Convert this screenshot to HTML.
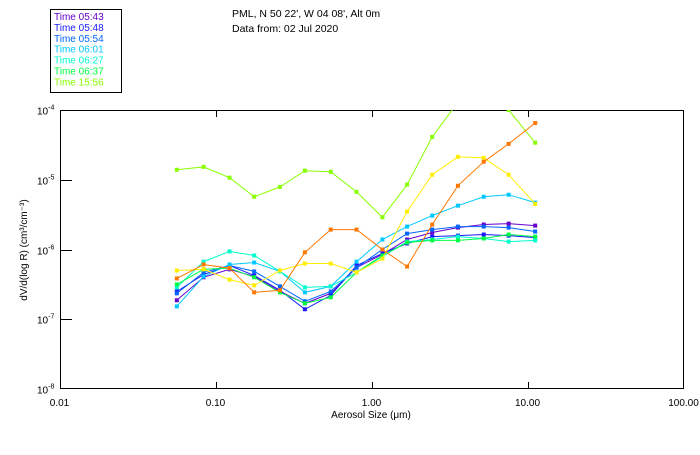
<!DOCTYPE html>
<html><head><meta charset="utf-8"><style>
html,body{margin:0;padding:0;background:#fff;}
body{width:700px;height:450px;overflow:hidden;position:relative;font-family:"Liberation Sans",sans-serif;}
svg text{font-family:"Liberation Sans",sans-serif;}
</style></head><body>
<svg id="chart" width="700" height="450" viewBox="0 0 700 450" xmlns="http://www.w3.org/2000/svg">
<defs><clipPath id="plotclip"><rect x="60" y="110" width="624" height="279"/></clipPath></defs>
<rect x="50.5" y="9.5" width="71" height="83" fill="#fff" stroke="#000" stroke-width="1"/>
<g id="legend"></g>
<text x="232" y="17" font-size="10.5" fill="#000">PML, N 50 22', W 04 08', Alt 0m</text>
<text x="232" y="32" font-size="10.5" fill="#000">Data from: 02 Jul 2020</text>
<rect x="60.5" y="110.5" width="623" height="278" fill="none" stroke="#000" stroke-width="1"/>
<g id="axes"></g>
<g id="series" clip-path="url(#plotclip)"></g>
<text x="371" y="418" font-size="10" text-anchor="middle">Aerosol Size (μm)</text>
<text transform="translate(27,250) rotate(-90)" font-size="10" text-anchor="middle">dV/d(log R) (cm³/cm⁻³)</text>
</svg>
<script>
const sizes = [0.0565,0.0839,0.123,0.177,0.259,0.374,0.548,0.802,1.175,1.69,2.45,3.58,5.24,7.57,11.2];
const seriesNames = ["Time 05:43","Time 05:48","Time 05:54","Time 06:01","Time 06:27","Time 06:37","Time 15:56","Yellow series","Orange series"];
const seriesColors = ["#6600cc","#1a1aff","#0066ff","#00c8ff","#00ffcc","#00ff44","#88ff00","#ffee00","#ff7700"];
const s0543 = [1.87e-7,4.0e-7,5.2e-7,4.1e-7,2.5e-7,1.69e-7,2.35e-7,5.5e-7,8.5e-7,1.39e-6,1.75e-6,2.06e-6,2.28e-6,2.35e-6,2.2e-6];
const s0548 = [2.5e-7,4.4e-7,5.9e-7,4.25e-7,2.6e-7,1.39e-7,2.2e-7,5.9e-7,8.8e-7,1.22e-6,1.53e-6,1.58e-6,1.64e-6,1.58e-6,1.48e-6];
const s0554 = [2.35e-7,4.7e-7,5.9e-7,4.85e-7,2.96e-7,1.81e-7,2.5e-7,5.5e-7,1.0e-6,1.69e-6,1.93e-6,2.13e-6,2.13e-6,2.06e-6,1.81e-6];
const s0601 = [1.53e-7,4.1e-7,6.1e-7,6.5e-7,4.85e-7,2.43e-7,2.96e-7,6.7e-7,1.39e-6,2.13e-6,3.06e-6,4.25e-6,5.7e-6,6.1e-6,4.7e-6];
const s0627 = [2.86e-7,6.7e-7,9.4e-7,8.2e-7,4.85e-7,2.86e-7,2.96e-7,4.7e-7,7.9e-7,1.3e-6,1.39e-6,1.53e-6,1.44e-6,1.3e-6,1.35e-6];
const s0637 = [3.16e-7,5.2e-7,5.4e-7,4.0e-7,2.43e-7,1.69e-7,2.06e-7,4.7e-7,8.2e-7,1.26e-6,1.35e-6,1.35e-6,1.44e-6,1.64e-6,1.53e-6];
const s1556 = [1.39e-5,1.53e-5,1.07e-5,5.7e-6,7.9e-6,1.35e-5,1.3e-5,6.7e-6,2.9e-6,8.5e-6,4.1e-5,1.3e-4,1.4e-4,1.0e-4,3.4e-5];
const sYellow = [5.0e-7,5.2e-7,3.7e-7,3.06e-7,5.0e-7,6.3e-7,6.3e-7,4.7e-7,7.4e-7,3.5e-6,1.18e-5,2.13e-5,2.06e-5,1.18e-5,4.5e-6];
const sOrange = [3.85e-7,6.1e-7,5.4e-7,2.43e-7,2.6e-7,9.1e-7,1.93e-6,1.93e-6,1.0e-6,5.7e-7,2.28e-6,8.2e-6,1.81e-5,3.27e-5,6.5e-5];
const allSeries = [s0543,s0548,s0554,s0601,s0627,s0637,s1556,sYellow,sOrange];
const xTickVals = [0.01,0.1,1,10,100];
const xTickLabels = ["0.01","0.10","1.00","10.00","100.00"];
const yTickExps = [-4,-5,-6,-7,-8];
const legendCount = 7;

const NS="http://www.w3.org/2000/svg";
function xs(v){return 59.5 + (Math.log10(v)+2)*156;}
function ys(v){return 110 + (-4-Math.log10(v))*69.75;}
function mk(tag,attrs,parent){const e=document.createElementNS(NS,tag);for(const k in attrs)e.setAttribute(k,attrs[k]);parent.appendChild(e);return e;}

const axes=document.getElementById('axes');
xTickVals.forEach((v,i)=>{
  const x=Math.round(xs(v))+0.5;
  if(i>0&&i<xTickVals.length-1){
    const t1=mk('line',{x1:x,x2:x,y1:110,y2:117,stroke:'#000'},axes);
    
    
    const t2=mk('line',{x1:x,x2:x,y1:382,y2:389,stroke:'#000'},axes);
    
    
  }
  const t=mk('text',{x:xs(v),y:406,'font-size':10,'text-anchor':'middle'},axes);
  t.textContent=xTickLabels[i];
  
  
});
yTickExps.forEach((e,i)=>{
  const y=Math.round(ys(Math.pow(10,e)))+0.5;
  if(i>0&&i<yTickExps.length-1){
    const t1=mk('line',{x1:60,x2:72,y1:y,y2:y,stroke:'#000'},axes);
    
    
  }
  const t=mk('text',{x:37,y:y+4,'font-size':10},axes);
  
  
  t.textContent='10';
  const sup=mk('tspan',{dy:-5,'font-size':7},t);
  sup.textContent=String(e);
});

const sg=document.getElementById('series');
allSeries.forEach((vals,si)=>{
  const g=mk('g',{},sg);
  
  
  const pts=vals.map((v,i)=>xs(sizes[i]).toFixed(1)+','+ys(v).toFixed(1)).join(' ');
  const pl=mk('polyline',{points:pts,fill:'none',stroke:seriesColors[si],'stroke-width':1},g);
  
  
  vals.forEach((v,i)=>{
    const r=mk('rect',{x:xs(sizes[i])-2,y:ys(v)-2,width:4,height:4,fill:seriesColors[si]},g);
    
    
  });
});

const lg=document.getElementById('legend');
for(let i=0;i<legendCount;i++){
  const t=mk('text',{x:54,y:20+i*10.9,'font-size':10,fill:seriesColors[i]},lg);
  t.textContent=seriesNames[i];
  
  
}
</script>
</body></html>
